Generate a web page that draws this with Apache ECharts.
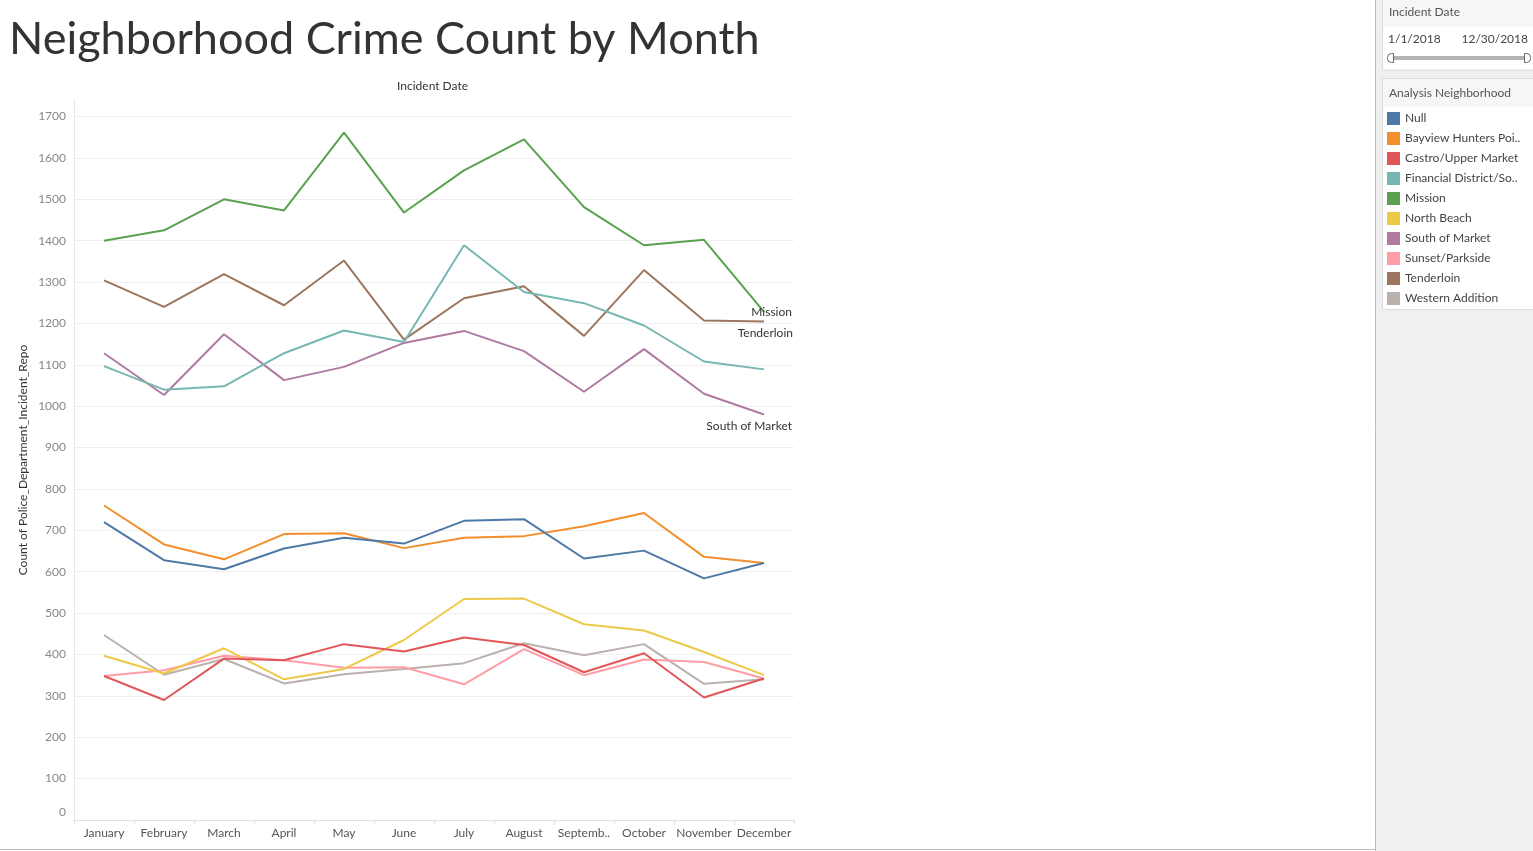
<!DOCTYPE html>
<html>
<head>
<meta charset="utf-8">
<script src="https://cdn.jsdelivr.net/npm/echarts@6/dist/echarts.min.js"></script>
<style>
html,body{margin:0;padding:0;background:#fff;}
#main{width:1533px;height:851px;}
</style>
</head>
<body>
<div id="main"></div>
<script>
var months = ['January','February','March','April','May','June','July','August','September','October','November','December'];

var nullVals      = [720, 628, 606, 656, 682, 668, 723, 727, 632, 651, 584, 621];
var bayview       = [760, 666, 630, 691, 693, 657, 682, 686, 710, 742, 636, 621];
var castro        = [348, 290, 390, 386, 425, 407, 441, 423, 357, 403, 296, 342];
var financial     = [1097, 1040, 1048, 1128, 1183, 1155, 1389, 1276, 1249, 1195, 1108, 1089];
var mission       = [1400, 1425, 1500, 1473, 1661, 1468, 1570, 1645, 1481, 1389, 1402, 1228];
var northBeach    = [397, 354, 415, 340, 365, 435, 534, 535, 473, 458, 406, 350];
var southOfMarket = [1128, 1027, 1174, 1063, 1095, 1153, 1182, 1133, 1035, 1138, 1030, 980];
var sunset        = [348, 362, 397, 386, 368, 369, 328, 413, 350, 388, 382, 342];
var tenderloin    = [1304, 1240, 1319, 1244, 1352, 1161, 1261, 1290, 1170, 1329, 1207, 1205];
var western       = [447, 351, 389, 330, 352, 365, 379, 427, 398, 425, 329, 340];

var names = ['Null','Bayview Hunters Point','Castro/Upper Market','Financial District/South Beach','Mission',
             'North Beach','South of Market','Sunset/Parkside','Tenderloin','Western Addition'];
var colors = ['#4e79a7','#f28e2b','#e15759','#76b7b2','#59a14f','#edc948','#b07aa1','#ff9da7','#9c755f','#bab0ac'];
var values = [nullVals, bayview, castro, financial, mission, northBeach, southOfMarket, sunset, tenderloin, western];

// labels drawn at the end of some lines, like Tableau does
var endLabels = {
    'Mission': [28, 0],
    'Tenderloin': [29, 12],
    'South of Market': [28, 12]
};

var FONT = 'Lato, "Open Sans", sans-serif';

var myChart = echarts.init(document.getElementById('main'));

var series = names.map(function (n, i) {
    var s = {
        name: n,
        type: 'line',
        data: values[i],
        showSymbol: false,
        symbol: 'none',
        lineStyle: { width: 2, color: colors[i] },
        itemStyle: { color: colors[i] },
        emphasis: { disabled: true },
        z: 10 - i
    };
    if (endLabels[n]) {
        s.endLabel = {
            show: true,
            formatter: n,
            distance: 0,
            align: 'right',
            offset: endLabels[n],
            color: '#333',
            fontSize: 12,
            fontFamily: FONT
        };
    }
    return s;
});

var option = {
    animation: false,
    color: colors,
    title: {
        text: 'Neighborhood Crime Count by Month',
        left: 4,
        top: 12,
        textStyle: { fontSize: 45, fontWeight: 'normal', color: '#333', fontFamily: FONT }
    },
    grid: { left: 74, width: 720, top: 100, bottom: 31, containLabel: false },
    legend: {
        orient: 'vertical',
        left: 1382,
        top: 107,
        icon: 'rect',
        itemWidth: 13,
        itemHeight: 13,
        itemGap: 7,
        selectedMode: false,
        data: names,
        textStyle: {
            color: '#444', fontSize: 12, fontFamily: FONT,
            width: 117, overflow: 'truncate', ellipsis: '..'
        }
    },
    xAxis: {
        type: 'category',
        data: months,
        boundaryGap: true,
        axisLine: { lineStyle: { color: '#e2e2e2' } },
        axisTick: { show: true, length: 5, lineStyle: { color: '#e2e2e2' } },
        axisLabel: {
            interval: 0, color: '#555', fontSize: 12, fontFamily: FONT, margin: 7,
            width: 58, overflow: 'truncate', ellipsis: '..'
        }
    },
    yAxis: {
        type: 'value',
        min: 0,
        max: 1740,
        interval: 100,
        name: 'Count of Police_Department_Incident_Repo',
        nameLocation: 'middle',
        nameGap: 45,
        nameTextStyle: { color: '#333', fontSize: 12, fontFamily: FONT },
        axisLine: { show: true, lineStyle: { color: '#e6e6e6' } },
        axisTick: { show: false },
        splitLine: { showMaxLine: false, lineStyle: { color: '#efefef' } },
        axisLabel: {
            color: '#888', fontSize: 12, fontFamily: FONT, margin: 8,
            formatter: function (v) {
                if (v === 0) return '{z|0}';
                return v % 100 === 0 ? String(v) : '';
            },
            rich: { z: { color: '#888', fontSize: 12, fontFamily: FONT, padding: [0, 0, 16, 0] } }
        }
    },
    graphic: [
        { type: 'text', left: 397, top: 80, style: { text: 'Incident Date', fill: '#333', font: '12px ' + FONT } },
        // frame lines
        { type: 'rect', shape: { x: 1375, y: 0, width: 158, height: 851 }, style: { fill: '#f0f0f0' }, z: -1 },
        { type: 'line', shape: { x1: 1375.5, y1: 0, x2: 1375.5, y2: 851 }, style: { stroke: '#bdbdbd', lineWidth: 1 } },
        { type: 'line', shape: { x1: 0, y1: 849.5, x2: 1375, y2: 849.5 }, style: { stroke: '#bdbdbd', lineWidth: 1 } },
        // filter card
        { type: 'rect', shape: { x: 1382.5, y: -1, width: 152, height: 71 }, style: { fill: '#fff', stroke: '#dcdcdc', lineWidth: 1 }, z: 0 },
        { type: 'rect', shape: { x: 1383, y: 0, width: 150, height: 27 }, style: { fill: '#f6f6f6' }, z: 0 },
        { type: 'text', left: 1389, top: 6, style: { text: 'Incident Date', fill: '#555', font: '12px ' + FONT }, z: 1 },
        { type: 'text', left: 1388, top: 33, style: { text: '1/1/2018', fill: '#444', font: '12px ' + FONT }, z: 1 },
        { type: 'text', right: 5, top: 33, style: { text: '12/30/2018', fill: '#444', font: '12px ' + FONT }, z: 1 },
        { type: 'line', shape: { x1: 1392, y1: 58, x2: 1525, y2: 58 }, style: { stroke: '#b3b3b3', lineWidth: 4 }, z: 1 },
        { type: 'rect', shape: { x: 1387.5, y: 53.5, width: 6, height: 9, r: [4, 0, 0, 4] }, style: { fill: '#fff', stroke: '#666', lineWidth: 1 }, z: 2 },
        { type: 'rect', shape: { x: 1524.5, y: 53.5, width: 6, height: 9, r: [0, 4, 4, 0] }, style: { fill: '#fff', stroke: '#666', lineWidth: 1 }, z: 2 },
        // legend card
        { type: 'rect', shape: { x: 1382.5, y: 78.5, width: 152, height: 231 }, style: { fill: '#fff', stroke: '#dcdcdc', lineWidth: 1 }, z: 0 },
        { type: 'rect', shape: { x: 1383, y: 79, width: 150, height: 28 }, style: { fill: '#f6f6f6' }, z: 0 },
        { type: 'text', left: 1389, top: 87, style: { text: 'Analysis Neighborhood', fill: '#555', font: '12px ' + FONT }, z: 1 }
    ],
    series: series
};

myChart.setOption(option);
</script>
</body>
</html>
